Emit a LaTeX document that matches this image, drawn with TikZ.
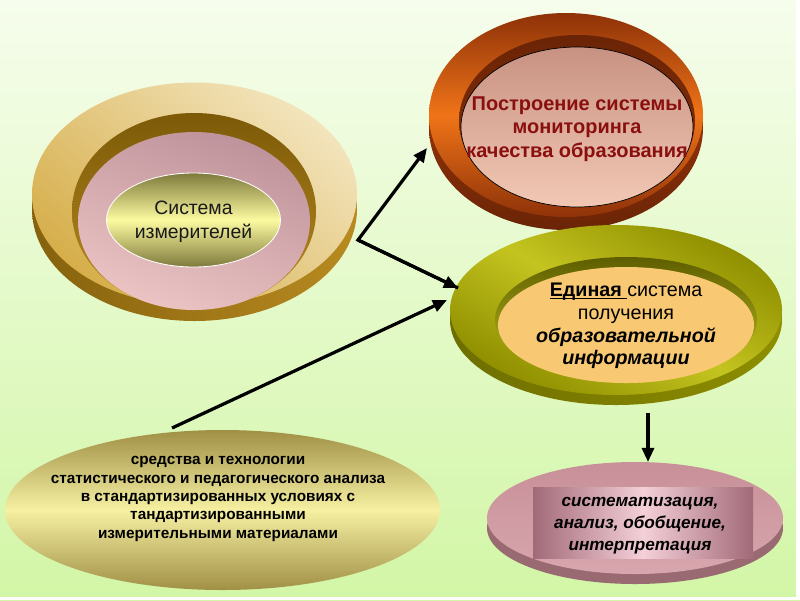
\documentclass[tikz,border=0pt]{standalone}
\usepackage{fontspec}
\setmainfont{Liberation Sans}
\usetikzlibrary{arrows.meta,shapes.geometric}
\newcommand\ulword[1]{\setbox0\hbox{#1}\rlap{\rule[-1.8pt]{\wd0}{0.7pt}}\box0}
\definecolor{bgtop}{HTML}{F6FDEC}
\definecolor{bgbot}{HTML}{D2F6A6}
% left ring
\definecolor{lgold}{HTML}{D6AE4A}
\definecolor{lpale}{HTML}{F3E4BC}
\definecolor{ledge}{HTML}{86620E}
\definecolor{lwall}{HTML}{7C5A08}
\definecolor{lwall2}{HTML}{B88A20}
\definecolor{lpinkA}{HTML}{BE929A}
\definecolor{lpinkB}{HTML}{ECC4C4}
\definecolor{lolive}{HTML}{7E7A3C}
\definecolor{lyell}{HTML}{FCFAA0}
% top right ring
\definecolor{obrown}{HTML}{8E3208}
\definecolor{oorange}{HTML}{F07418}
\definecolor{oedge}{HTML}{6A2406}
\definecolor{opinkA}{HTML}{C89282}
\definecolor{opinkB}{HTML}{F2C8B4}
\definecolor{otext}{HTML}{8A1010}
% olive ring
\definecolor{gdark}{HTML}{8E8E00}
\definecolor{glight}{HTML}{C4C420}
\definecolor{gedge}{HTML}{6E6E00}
\definecolor{gwall}{HTML}{5E5E00}
\definecolor{gin}{HTML}{F8C872}
% bottom left
\definecolor{kdark}{HTML}{A09046}
\definecolor{klight}{HTML}{F6F0A2}
% bottom right
\definecolor{mtop}{HTML}{D8A6AE}
\definecolor{mtop2}{HTML}{C89098}
\definecolor{medge}{HTML}{9A6A72}
\definecolor{rdark}{HTML}{A26A78}
\definecolor{rlight}{HTML}{F4D0D8}
\newcommand\pxu{0.025cm}
\begin{document}
\begin{tikzpicture}[x=0.025cm,y=-0.025cm,
  conn/.style={line width=2.3pt,-{Triangle[length=10pt,width=8.5pt]}},
  lbl/.style={align=center,inner sep=0pt}]
\shade[top color=bgtop,bottom color=bgbot] (0,0) rectangle (800,600);
\useasboundingbox (0,0) rectangle (800,600);
\fill[white] (796,0) rectangle (800,600);
\fill[white] (0,597) rectangle (800,600);

% ---------- left ring ----------
\shade[left color=ledge,right color=lwall2] (194.5,209) ellipse [x radius=162.5*\pxu,y radius=112*\pxu];
\shade[top color=lpale,bottom color=lgold,shading angle=-40] (194.5,194) ellipse [x radius=162.5*\pxu,y radius=111.5*\pxu];
\shade[top color=lwall,bottom color=lwall2] (194,211.5) ellipse [x radius=122*\pxu,y radius=98.5*\pxu];
\shade[left color=lpinkA,right color=lpinkB,shading angle=-20] (194,221) ellipse [x radius=116*\pxu,y radius=89*\pxu];
\shade[top color=lolive,bottom color=lolive,middle color=lyell,draw=white,line width=0.6pt] (193.5,220) ellipse [x radius=87*\pxu,y radius=47*\pxu];
\node[lbl,font=\fontsize{13.8}{17}\selectfont,text=black!90] (meas) at (193.5,222) {Система\\измерителей};

% ---------- top right ring ----------
\shade[top color=oedge,bottom color=oedge,middle color=obrown] (566,128) ellipse [x radius=137*\pxu,y radius=102*\pxu];
\shade[top color=obrown,bottom color=obrown,middle color=oorange] (566,115) ellipse [x radius=137*\pxu,y radius=102*\pxu];
\shade[top color=oedge,bottom color=obrown] (577,121) ellipse [x radius=118*\pxu,y radius=86*\pxu];
\shade[top color=opinkA,bottom color=opinkB,draw=black,line width=0.5pt] (577,127) ellipse [x radius=116*\pxu,y radius=80*\pxu];
\node[lbl,font=\bfseries\fontsize{14.2}{16.6}\selectfont,text=otext] (mon) at (577,129) {Построение системы\\мониторинга\\качества образования};

% ---------- olive ring ----------
\shade[left color=gedge,right color=gdark] (616,320) ellipse [x radius=166*\pxu,y radius=85*\pxu];
\shade[left color=gdark,right color=gdark,middle color=glight,shading angle=-30] (616,310) ellipse [x radius=166*\pxu,y radius=85*\pxu];
\shade[top color=gwall,bottom color=glight] (626,320) ellipse [x radius=131*\pxu,y radius=63*\pxu];
\fill[gin] (626,325) ellipse [x radius=128*\pxu,y radius=58*\pxu];
\node[lbl,font=\fontsize{14}{16.1}\selectfont,text=black] (info) at (626,326)
  {\ulword{\textbf{Единая}\ }система\\получения\\\textbf{\textit{образовательной}}\\\textbf{\textit{информации}}};

% ---------- bottom left ellipse ----------
\shade[top color=kdark,bottom color=kdark,middle color=klight] (222.5,510) ellipse [x radius=217.5*\pxu,y radius=80*\pxu];
\node[lbl,font=\bfseries\fontsize{10.9}{13}\selectfont,text=black] (tools) at (218,499)
  {средства и технологии\\статистического и педагогического анализа\\в стандартизированных условиях с\\тандартизированными\\измерительными материалами};

% ---------- bottom right disk ----------
\fill[medge] (635,528) ellipse [x radius=148*\pxu,y radius=56*\pxu];
\shade[top color=mtop2,bottom color=mtop] (635,518) ellipse [x radius=148*\pxu,y radius=56*\pxu];
\shade[left color=rdark,right color=rdark,middle color=rlight] (533,487) rectangle (753,558);
\node[lbl,font=\bfseries\itshape\fontsize{12.2}{15.6}\selectfont,text=black] (anal) at (640,526)
  {систематизация,\\анализ, обобщение,\\интерпретация};

% ---------- connectors ----------
\coordinate (corner) at (358,240);
\coordinate (tipA) at (427,148);
\coordinate (tipB) at (458,288);
\coordinate (startC) at (172,428);
\coordinate (tipC) at (447,300);
\coordinate (startD) at (648,413);
\coordinate (tipD) at (648,462);
\draw[conn,line join=miter] (tipB) -- (corner) -- (tipA);
\draw[conn] (corner) -- (tipB);
\draw[conn] (startC) -- (tipC);
\draw[conn] (startD) -- (tipD);
\end{tikzpicture}
\end{document}
